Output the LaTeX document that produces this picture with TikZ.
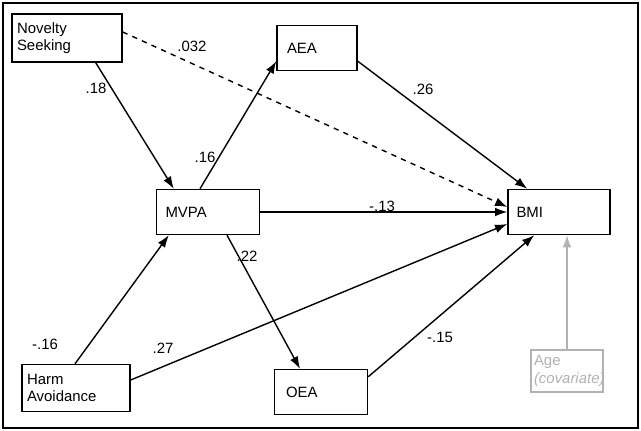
\documentclass[tikz,border=0pt]{standalone}
\usepackage{fontspec}
\setmainfont{Liberation Sans}
\usetikzlibrary{arrows.meta}
\tikzset{
    var/.style={draw, thick, rectangle, align=left, font=\fontsize{8.5}{10}\selectfont, inner sep=0pt},
    path/.style={thick, -{Latex[length=7pt,width=5pt]}},
    coef/.style={font=\fontsize{8.5}{10}\selectfont}
}
\begin{document}
\begin{tikzpicture}[x=0.02cm,y=-0.02cm]
        \useasboundingbox (0,0) rectangle (641,431);
        \draw[thick] (3,3) rectangle (638,428);
        \node[var, minimum width=110*0.02cm, minimum height=48*0.02cm, text width=100*0.02cm] (ns) at (67,38) {Novelty\\Seeking};
        \node[var, minimum width=80*0.02cm, minimum height=45*0.02cm, text width=60*0.02cm] (aea) at (317,48) {AEA};
        \node[var, minimum width=103*0.02cm, minimum height=45*0.02cm, text width=85*0.02cm] (mvpa) at (208,212) {MVPA};
        \node[var, minimum width=102*0.02cm, minimum height=45*0.02cm, text width=85*0.02cm] (bmi) at (559,212) {BMI};
        \node[var, minimum width=108*0.02cm, minimum height=47*0.02cm, text width=98*0.02cm] (ha) at (76,388) {Harm\\Avoidance};
        \node[var, minimum width=93*0.02cm, minimum height=45*0.02cm, text width=70*0.02cm] (oea) at (321,392) {OEA};
        \node[var, draw=gray!60, text=gray!60, minimum width=72*0.02cm, minimum height=42*0.02cm, text width=66*0.02cm] (age) at (567,371) {Age\\\textit{(covariate)}};
        % end points
        \path (ns.south east) ++(-27,0) coordinate (a1) (mvpa.north west) ++(18,0) coordinate (a2);
        \path (ns.east) ++(0,-6) coordinate (b1) (bmi.west) ++(0,-5) coordinate (b2);
        \path (mvpa.north) ++(-8,0) coordinate (c1) (aea.south west) ++(0,-10) coordinate (c2);
        \path (aea.south east) ++(0,-10) coordinate (d1) (bmi.north west) ++(20,0) coordinate (d2);
        \path (mvpa.south) ++(19,0) coordinate (e1) (oea.north) ++(-21,0) coordinate (e2);
        \path (oea.north east) ++(0,8) coordinate (f1) (bmi.south west) ++(27,0) coordinate (f2);
        \path (ha.north) ++(-1,0) coordinate (g1) (mvpa.south west) ++(13,0) coordinate (g2);
        \path (ha.east) ++(0,-8) coordinate (h1) (bmi.west) ++(0,12) coordinate (h2);
        % paths
        \draw[path] (a1) -- (a2);
        \draw[path, dashed] (b1) -- (b2);
        \draw[path] (c1) -- (c2);
        \draw[path] (d1) -- (d2);
        \draw[path] (mvpa) -- (bmi);
        \draw[path] (e1) -- (e2);
        \draw[path] (f1) -- (f2);
        \draw[path] (g1) -- (g2);
        \draw[path] (h1) -- (h2);
        \draw[path, gray!60] (age.north) -- (bmi.south -| age.north);
        % coefficients
        \node[coef] at (96,88) {.18};
        \node[coef] at (192,46) {.032};
        \node[coef] at (205,157) {.16};
        \node[coef] at (423,89) {.26};
        \node[coef] at (382,206) {-.13};
        \node[coef] at (247,256) {.22};
        \node[coef] at (440,337) {-.15};
        \node[coef] at (45,344) {-.16};
        \node[coef] at (163,348) {.27};
\end{tikzpicture}
\end{document}
